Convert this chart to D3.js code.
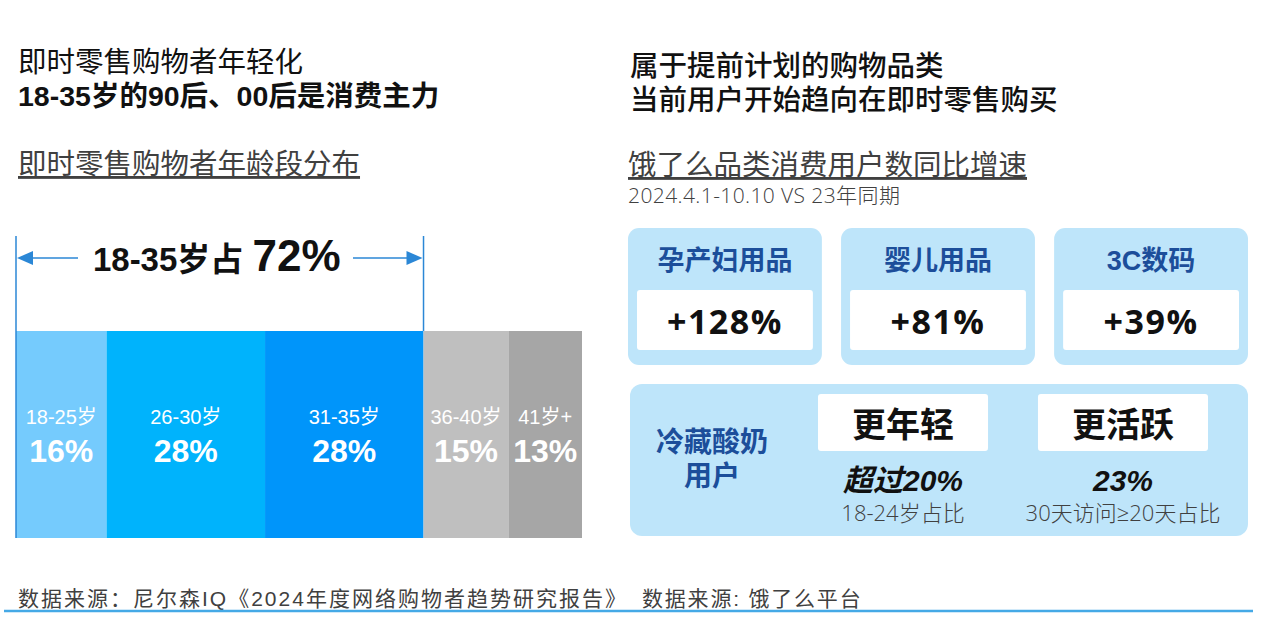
<!DOCTYPE html>
<html>
<head>
<meta charset="utf-8">
<script src="https://cdn.jsdelivr.net/npm/d3@7"></script>
<style>
  html, body { margin: 0; padding: 0; background: #fff; }
  svg { display: block; }
</style>
</head>
<body>
<div id="chart"></div>
<script>
// age distribution (left)
const ageGroups = ['18-25岁', '26-30岁', '31-35岁', '36-40岁', '41岁+']
const ageShares = [16, 28, 28, 15, 13]
const ageColors = ['#75CBFD', '#00B3FC', '#0095FA', '#BFBFBF', '#A6A6A6']
const bracketCount = 3 // first three groups make the 18-35 bracket

// category growth (right)
const categories = ['孕产妇用品', '婴儿用品', '3C数码']
const growth = [128, 81, 39]

// yogurt users card
const yogurtLabel = ['冷藏酸奶', '用户']
const yogurtTags = ['更年轻', '更活跃']
const yogurtValues = ['超过20%', '23%']
const yogurtNotes = ['18-24岁占比', '30天访问≥20天占比']

const W = 1280, H = 640
const leftFont = '"Liberation Sans", Arial, "Noto Sans CJK SC", sans-serif'
const cjkFont = '"Liberation Sans", "Noto Sans CJK SC", sans-serif'
const lightFont = '"Open Sans", "Noto Sans CJK SC", sans-serif'
const darkBlue = '#1C4E9A'
const cardFill = '#BEE5FA'

const svg = d3.select('#chart').append('svg')
    .attr('width', W)
    .attr('height', H)

svg.append('rect').attr('width', W).attr('height', H).attr('fill', '#fff')

// ---------- headings ----------
svg.append('text')
    .attr('x', 18).attr('y', 72)
    .attr('font-family', leftFont).attr('font-size', 28.5)
    .attr('fill', '#111')
    .text('即时零售购物者年轻化')
svg.append('text')
    .attr('x', 18).attr('y', 106)
    .attr('font-family', leftFont).attr('font-size', 28.5).attr('font-weight', 'bold')
    .attr('fill', '#111')
    .text('18-35岁的90后、00后是消费主力')

svg.append('text')
    .attr('x', 18).attr('y', 174)
    .attr('font-family', leftFont).attr('font-size', 28.5)
    .attr('fill', '#404040')
    .attr('text-decoration', 'underline')
    .text('即时零售购物者年龄段分布')

svg.append('text')
    .attr('x', 630).attr('y', 76)
    .attr('font-family', cjkFont).attr('font-size', 28.5).attr('font-weight', 500)
    .attr('fill', '#111')
    .text('属于提前计划的购物品类')
svg.append('text')
    .attr('x', 630).attr('y', 110)
    .attr('font-family', cjkFont).attr('font-size', 28.5).attr('font-weight', 500)
    .attr('fill', '#111')
    .text('当前用户开始趋向在即时零售购买')

svg.append('text')
    .attr('x', 628).attr('y', 175)
    .attr('font-family', cjkFont).attr('font-size', 28.5)
    .attr('fill', '#404040')
    .attr('text-decoration', 'underline')
    .text('饿了么品类消费用户数同比增速')
svg.append('text')
    .attr('x', 628).attr('y', 203)
    .attr('font-family', lightFont).attr('font-size', 21).attr('font-weight', 300)
    .attr('letter-spacing', 0.4)
    .attr('fill', '#404040')
    .text('2024.4.1-10.10 VS 23年同期')

// ---------- stacked age bar ----------
const x = d3.scaleLinear().domain([0, d3.sum(ageShares)]).range([16, 582])
const barTop = 331, barBottom = 538

let acc = 0
const segs = ageShares.map((v, i) => {
    const s = { name: ageGroups[i], value: v, x0: acc, x1: acc + v, color: ageColors[i] }
    acc += v
    return s
})

const seg = svg.append('g').selectAll('g')
    .data(segs)
    .join('g')

seg.append('rect')
    .attr('x', d => x(d.x0))
    .attr('y', barTop)
    .attr('width', d => x(d.x1) - x(d.x0))
    .attr('height', barBottom - barTop)
    .attr('fill', d => d.color)

seg.append('text')
    .attr('x', d => (x(d.x0) + x(d.x1)) / 2)
    .attr('y', 424)
    .attr('text-anchor', 'middle')
    .attr('font-family', leftFont).attr('font-size', 20)
    .attr('fill', '#fff')
    .text(d => d.name)

seg.append('text')
    .attr('x', d => (x(d.x0) + x(d.x1)) / 2)
    .attr('y', 462)
    .attr('text-anchor', 'middle')
    .attr('font-family', leftFont).attr('font-size', 32).attr('font-weight', 'bold')
    .attr('fill', '#fff')
    .text(d => d.value + '%')

// bracket over the 18-35 groups
const bracketShare = d3.sum(ageShares.slice(0, bracketCount))
const bx0 = x(0), bx1 = x(bracketShare)
const by = 258
const bracketColor = '#2B87D6'

const br = svg.append('g')
br.append('line')
    .attr('x1', bx0).attr('x2', bx0).attr('y1', 236).attr('y2', barBottom)
    .attr('stroke', bracketColor).attr('stroke-width', 1.5)
br.append('line')
    .attr('x1', bx1).attr('x2', bx1).attr('y1', 236).attr('y2', barTop)
    .attr('stroke', bracketColor).attr('stroke-width', 1.5)
br.append('line')
    .attr('x1', 78).attr('x2', bx0 + 10).attr('y1', by).attr('y2', by)
    .attr('stroke', bracketColor).attr('stroke-width', 1.5)
br.append('path')
    .attr('d', `M${bx0 + 1},${by} L${bx0 + 17},${by - 7} L${bx0 + 17},${by + 7} Z`)
    .attr('fill', bracketColor)
br.append('line')
    .attr('x1', 353).attr('x2', bx1 - 10).attr('y1', by).attr('y2', by)
    .attr('stroke', bracketColor).attr('stroke-width', 1.5)
br.append('path')
    .attr('d', `M${bx1 - 1},${by} L${bx1 - 17},${by - 7} L${bx1 - 17},${by + 7} Z`)
    .attr('fill', bracketColor)

const bt = br.append('text')
    .attr('x', (bx0 + bx1) / 2 - 3).attr('y', 271)
    .attr('text-anchor', 'middle')
    .attr('font-family', leftFont).attr('font-weight', 'bold')
    .attr('fill', '#111')
bt.append('tspan').attr('font-size', 33).text('18-35岁占 ')
bt.append('tspan').attr('font-size', 44).text(bracketShare + '%')

// ---------- category cards ----------
const cx = d3.scaleBand().domain(categories).range([628, 1248]).paddingInner(0.09)

const card = svg.append('g').selectAll('g')
    .data(categories.map((c, i) => ({ name: c, value: growth[i] })))
    .join('g')
    .attr('transform', d => `translate(${cx(d.name)},228)`)

card.append('rect')
    .attr('width', cx.bandwidth()).attr('height', 137)
    .attr('rx', 11)
    .attr('fill', cardFill)

card.append('text')
    .attr('x', cx.bandwidth() / 2).attr('y', 42)
    .attr('text-anchor', 'middle')
    .attr('font-family', cjkFont).attr('font-size', 27).attr('font-weight', 'bold')
    .attr('fill', darkBlue)
    .text(d => d.name)

card.append('rect')
    .attr('x', 9).attr('y', 62)
    .attr('width', cx.bandwidth() - 18).attr('height', 60)
    .attr('rx', 3)
    .attr('fill', '#fff')

card.append('text')
    .attr('x', cx.bandwidth() / 2).attr('y', 106)
    .attr('text-anchor', 'middle')
    .attr('font-family', '"Open Sans", "Noto Sans", sans-serif').attr('font-size', 34).attr('font-weight', 'bold')
    .attr('letter-spacing', 1.5)
    .attr('fill', '#111')
    .text(d => '+' + d.value + '%')

// ---------- yogurt card ----------
const yg = svg.append('g').attr('transform', 'translate(630,384)')
yg.append('rect')
    .attr('width', 618).attr('height', 152)
    .attr('rx', 12)
    .attr('fill', cardFill)

yg.selectAll('text.ylabel')
    .data(yogurtLabel)
    .join('text')
    .attr('class', 'ylabel')
    .attr('x', 82)
    .attr('y', (d, i) => 68 + i * 34)
    .attr('text-anchor', 'middle')
    .attr('font-family', cjkFont).attr('font-size', 28).attr('font-weight', 'bold')
    .attr('fill', darkBlue)
    .text(d => d)

const tx = d3.scaleBand().domain(yogurtTags).range([188, 578]).paddingInner(0.227)

const tag = yg.selectAll('g.tag')
    .data(yogurtTags.map((t, i) => ({ tag: t, value: yogurtValues[i], note: yogurtNotes[i] })))
    .join('g')
    .attr('class', 'tag')
    .attr('transform', d => `translate(${tx(d.tag)},0)`)

tag.append('rect')
    .attr('y', 10)
    .attr('width', tx.bandwidth()).attr('height', 57)
    .attr('rx', 3)
    .attr('fill', '#fff')

tag.append('text')
    .attr('x', tx.bandwidth() / 2).attr('y', 53)
    .attr('text-anchor', 'middle')
    .attr('font-family', cjkFont).attr('font-size', 34).attr('font-weight', 'bold')
    .attr('fill', '#111')
    .text(d => d.tag)

tag.append('text')
    .attr('x', tx.bandwidth() / 2).attr('y', 107)
    .attr('text-anchor', 'middle')
    .attr('font-family', cjkFont).attr('font-size', 30).attr('font-weight', 'bold')
    .attr('font-style', 'italic')
    .attr('fill', '#111')
    .text(d => d.value)

tag.append('text')
    .attr('x', tx.bandwidth() / 2).attr('y', 137)
    .attr('text-anchor', 'middle')
    .attr('font-family', lightFont).attr('font-size', 22).attr('font-weight', 300)
    .attr('fill', '#404040')
    .text(d => d.note)

// ---------- footer ----------
svg.append('text')
    .attr('x', 18).attr('y', 606)
    .attr('font-family', cjkFont).attr('font-size', 21)
    .attr('letter-spacing', 2)
    .attr('fill', '#404040')
    .text('数据来源：尼尔森IQ《2024年度网络购物者趋势研究报告》')
svg.append('text')
    .attr('x', 642).attr('y', 606)
    .attr('font-family', cjkFont).attr('font-size', 21)
    .attr('letter-spacing', 1.8)
    .attr('fill', '#404040')
    .text('数据来源: 饿了么平台')

svg.append('line')
    .attr('x1', 4).attr('x2', 1253).attr('y1', 611).attr('y2', 611)
    .attr('stroke', '#45A9E6').attr('stroke-width', 2.5)
</script>
</body>
</html>
